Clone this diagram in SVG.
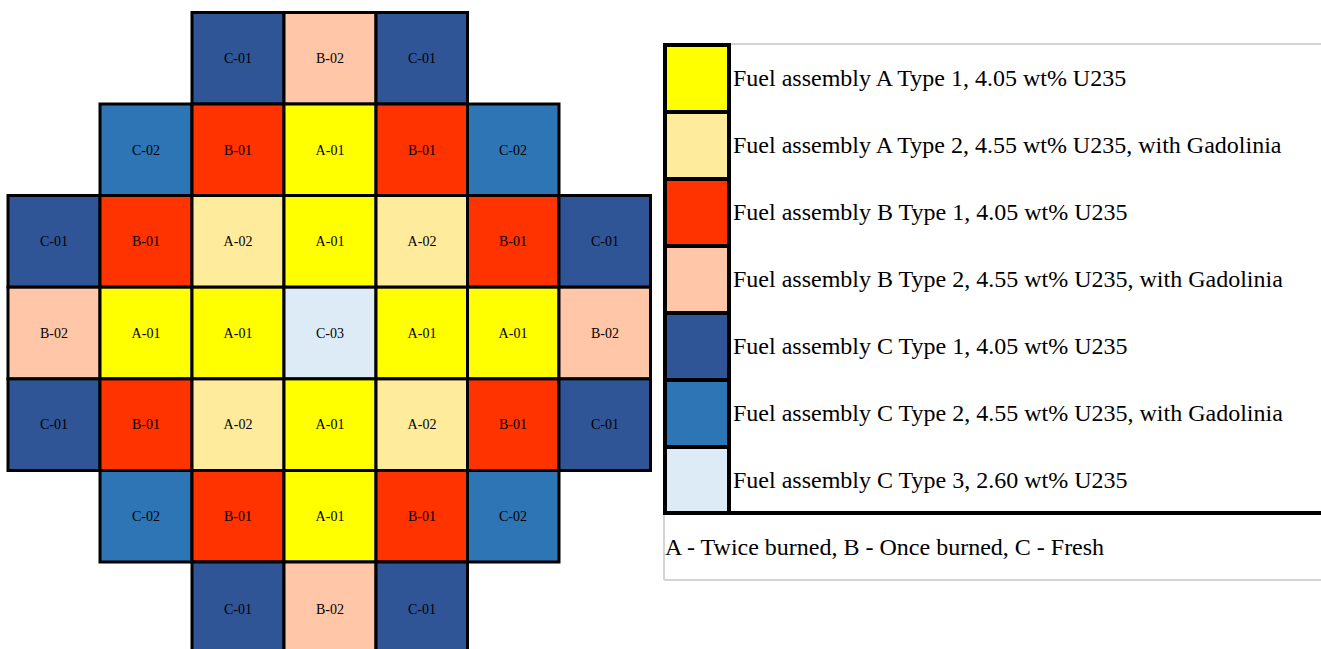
<svg xmlns="http://www.w3.org/2000/svg" width="1321" height="649" viewBox="0 0 1321 649">
<style>
.c{stroke:#000;stroke-width:3}
.a1{fill:#FFFF00}.a2{fill:#FFEB9C}.b1{fill:#FF3300}.b2{fill:#FFC7A8}.c1{fill:#2F5597}.c2{fill:#2E75B6}.c3{fill:#DDEBF7}
.t{font-family:'Liberation Serif','Times New Roman',Times,serif;font-size:14px;fill:#000;text-anchor:middle}
.l{font-family:'Liberation Serif','Times New Roman',Times,serif;font-size:24px;fill:#000}
.s{stroke:#000;stroke-width:4}
</style>
<rect width="1321" height="649" fill="#fff"/>
<g id="core">
<g id="r0">
<rect class="c c1" x="192" y="12.5" width="92" height="91.6"/><text class="t" x="238" y="63">C-01</text>
<rect class="c b2" x="284" y="12.5" width="92" height="91.6"/><text class="t" x="330" y="63">B-02</text>
<rect class="c c1" x="376" y="12.5" width="91.5" height="91.6"/><text class="t" x="422" y="63">C-01</text>
</g>
<g id="r1">
<rect class="c c2" x="100" y="104" width="92" height="91.5"/><text class="t" x="146" y="155">C-02</text>
<rect class="c b1" x="192" y="104" width="92" height="91.5"/><text class="t" x="238" y="155">B-01</text>
<rect class="c a1" x="284" y="104" width="92" height="91.5"/><text class="t" x="330" y="155">A-01</text>
<rect class="c b1" x="376" y="104" width="91.5" height="91.5"/><text class="t" x="422" y="155">B-01</text>
<rect class="c c2" x="467.5" y="104" width="91.5" height="91.5"/><text class="t" x="513" y="155">C-02</text>
</g>
<g id="r2">
<rect class="c c1" x="8" y="195.5" width="92" height="91.7"/><text class="t" x="54" y="246">C-01</text>
<rect class="c b1" x="100" y="195.5" width="92" height="91.7"/><text class="t" x="146" y="246">B-01</text>
<rect class="c a2" x="192" y="195.5" width="92" height="91.7"/><text class="t" x="238" y="246">A-02</text>
<rect class="c a1" x="284" y="195.5" width="92" height="91.7"/><text class="t" x="330" y="246">A-01</text>
<rect class="c a2" x="376" y="195.5" width="91.5" height="91.7"/><text class="t" x="422" y="246">A-02</text>
<rect class="c b1" x="467.5" y="195.5" width="91.5" height="91.7"/><text class="t" x="513" y="246">B-01</text>
<rect class="c c1" x="559" y="195.5" width="91.5" height="91.7"/><text class="t" x="605" y="246">C-01</text>
</g>
<g id="r3">
<rect class="c b2" x="8" y="287.2" width="92" height="91.7"/><text class="t" x="54" y="338">B-02</text>
<rect class="c a1" x="100" y="287.2" width="92" height="91.7"/><text class="t" x="146" y="338">A-01</text>
<rect class="c a1" x="192" y="287.2" width="92" height="91.7"/><text class="t" x="238" y="338">A-01</text>
<rect class="c c3" x="284" y="287.2" width="92" height="91.7"/><text class="t" x="330" y="338">C-03</text>
<rect class="c a1" x="376" y="287.2" width="91.5" height="91.7"/><text class="t" x="422" y="338">A-01</text>
<rect class="c a1" x="467.5" y="287.2" width="91.5" height="91.7"/><text class="t" x="513" y="338">A-01</text>
<rect class="c b2" x="559" y="287.2" width="91.5" height="91.7"/><text class="t" x="605" y="338">B-02</text>
</g>
<g id="r4">
<rect class="c c1" x="8" y="378.9" width="92" height="91.6"/><text class="t" x="54" y="429">C-01</text>
<rect class="c b1" x="100" y="378.9" width="92" height="91.6"/><text class="t" x="146" y="429">B-01</text>
<rect class="c a2" x="192" y="378.9" width="92" height="91.6"/><text class="t" x="238" y="429">A-02</text>
<rect class="c a1" x="284" y="378.9" width="92" height="91.6"/><text class="t" x="330" y="429">A-01</text>
<rect class="c a2" x="376" y="378.9" width="91.5" height="91.6"/><text class="t" x="422" y="429">A-02</text>
<rect class="c b1" x="467.5" y="378.9" width="91.5" height="91.6"/><text class="t" x="513" y="429">B-01</text>
<rect class="c c1" x="559" y="378.9" width="91.5" height="91.6"/><text class="t" x="605" y="429">C-01</text>
</g>
<g id="r5">
<rect class="c c2" x="100" y="470.5" width="92" height="91.5"/><text class="t" x="146" y="521">C-02</text>
<rect class="c b1" x="192" y="470.5" width="92" height="91.5"/><text class="t" x="238" y="521">B-01</text>
<rect class="c a1" x="284" y="470.5" width="92" height="91.5"/><text class="t" x="330" y="521">A-01</text>
<rect class="c b1" x="376" y="470.5" width="91.5" height="91.5"/><text class="t" x="422" y="521">B-01</text>
<rect class="c c2" x="467.5" y="470.5" width="91.5" height="91.5"/><text class="t" x="513" y="521">C-02</text>
</g>
<g id="r6">
<rect class="c c1" x="192" y="562" width="92" height="100"/><text class="t" x="238" y="614">C-01</text>
<rect class="c b2" x="284" y="562" width="92" height="100"/><text class="t" x="330" y="614">B-02</text>
<rect class="c c1" x="376" y="562" width="91.5" height="100"/><text class="t" x="422" y="614">C-01</text>
</g>
</g>
<g id="legend">
<line x1="729" y1="44" x2="1321" y2="44" stroke="#d4d4d4" stroke-width="2"/>
<line x1="664" y1="513" x2="664" y2="580" stroke="#d4d4d4" stroke-width="2"/>
<line x1="664" y1="580" x2="1321" y2="580" stroke="#d4d4d4" stroke-width="2"/>
<rect class="s a1" x="665" y="45" width="64" height="67"/>
<rect class="s a2" x="665" y="112" width="64" height="67"/>
<rect class="s b1" x="665" y="179" width="64" height="67"/>
<rect class="s b2" x="665" y="246" width="64" height="67"/>
<rect class="s c1" x="665" y="313" width="64" height="67"/>
<rect class="s c2" x="665" y="380" width="64" height="67"/>
<rect class="s c3" x="665" y="447" width="64" height="66"/>
<line x1="663" y1="513" x2="1321" y2="513" stroke="#000" stroke-width="4"/>
<text class="l" x="733" y="86">Fuel assembly A Type 1, 4.05 wt% U235</text>
<text class="l" x="733" y="153">Fuel assembly A Type 2, 4.55 wt% U235, with Gadolinia</text>
<text class="l" x="733" y="220">Fuel assembly B Type 1, 4.05 wt% U235</text>
<text class="l" x="733" y="287">Fuel assembly B Type 2, 4.55 wt% U235, with Gadolinia</text>
<text class="l" x="733" y="354">Fuel assembly C Type 1, 4.05 wt% U235</text>
<text class="l" x="733" y="421">Fuel assembly C Type 2, 4.55 wt% U235, with Gadolinia</text>
<text class="l" x="733" y="488">Fuel assembly C Type 3, 2.60 wt% U235</text>
<text class="l" x="665" y="555">A - Twice burned, B - Once burned, C - Fresh</text>
</g>
</svg>
